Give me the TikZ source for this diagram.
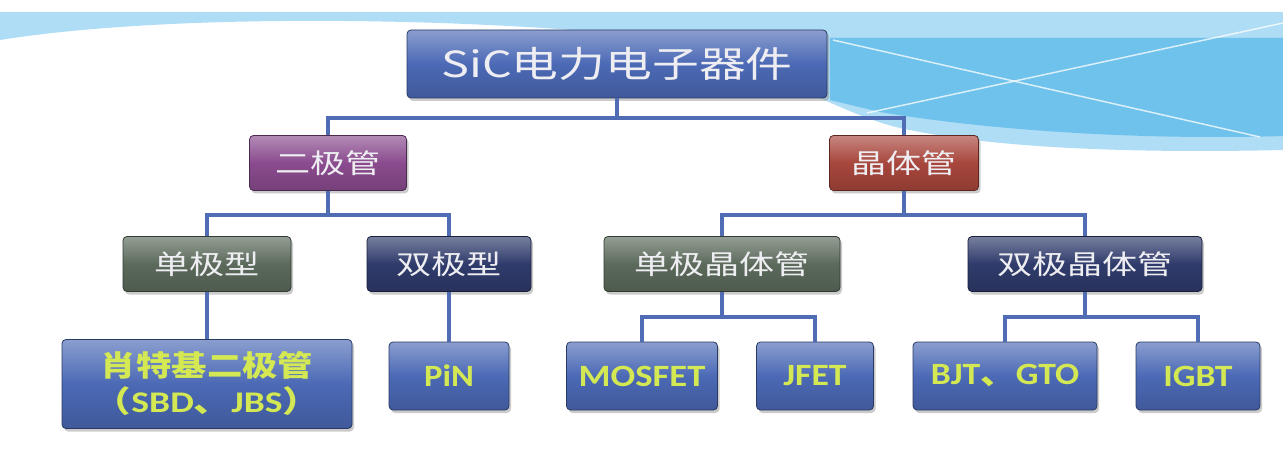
\documentclass[tikz,border=0pt]{standalone}
\usepackage{fontspec}
\newfontfamily\cjk{Noto Sans CJK SC}
\newfontfamily\lat{Carlito}
\usetikzlibrary{shadows}
\definecolor{bglight}{HTML}{AEDDF5}
\definecolor{bgdark}{HTML}{6EC2EC}
\definecolor{linec}{HTML}{4F6CB4}
\definecolor{cblue}{HTML}{4B69B5}
\definecolor{cpurple}{HTML}{8A4B8E}
\definecolor{cred}{HTML}{A8463C}
\definecolor{cgreen}{HTML}{5B6A5B}
\definecolor{cnavy}{HTML}{2F3B6B}
\definecolor{ctext}{HTML}{EEEEF2}
\definecolor{cyellow}{HTML}{D3E853}
\newcommand{\stretchtxt}[2]{\scalebox{#1}[1]{#2}}
\tikzset{
  box/.style={rounded corners=4pt, draw=#1!55!black, line width=0.8pt,
    top color=#1!65!white, bottom color=#1!85!black, middle color=#1,
    drop shadow={shadow xshift=2pt, shadow yshift=-3pt, fill=black!45, opacity=0.45},
    inner sep=0pt, align=center},
  conn/.style={draw=linec, line width=3.5pt},
  toptext/.style={text=ctext, font=\cjk\fontsize{36}{40}\selectfont},
  midtext/.style={text=ctext, font=\cjk\fontsize{27}{30}\selectfont},
  lowtext/.style={text=cyellow, font=\cjk\bfseries\fontsize{29}{34}\selectfont},
  lattext/.style={text=cyellow, font=\lat\bfseries\fontsize{31}{34}\selectfont},
}
\begin{document}
\begin{tikzpicture}[x=1pt,y=-1pt]
\useasboundingbox (0,0) rectangle (1283,449);
\fill[white] (0,0) rectangle (1283,449);
% background swoosh
\fill[bglight] (0,12) -- (1283,12) -- (1283,150)
  .. controls (1150,153) and (1000,150) .. (900,128)
  .. controls (830,112) and (760,55) .. (600,32)
  .. controls (400,16) and (150,16) .. (0,40) -- cycle;
\fill[bgdark] (830,38) -- (1283,38) -- (1283,136)
  .. controls (1150,140) and (1000,132) .. (880,112) -- (830,100) -- cycle;
\draw[white, line width=1.5pt, opacity=0.75] (833,40) -- (1260,137);
\draw[white, line width=1.5pt, opacity=0.75] (867,113) -- (1283,23);

% nodes
\node[box=cblue, minimum width=420pt, minimum height=68pt, toptext] (root) at (617,64) {\stretchtxt{1.3}{SiC电力电子器件}};
\node[box=cpurple, minimum width=157pt, minimum height=55pt, midtext] (d) at (328,163) {\stretchtxt{1.3}{二极管}};
\node[box=cred, minimum width=149pt, minimum height=55pt, midtext] (t) at (904,163) {\stretchtxt{1.3}{晶体管}};
\node[box=cgreen, minimum width=168pt, minimum height=55pt, midtext] (d1) at (207,264) {\stretchtxt{1.3}{单极型}};
\node[box=cnavy, minimum width=164pt, minimum height=55pt, midtext] (d2) at (449,264) {\stretchtxt{1.3}{双极型}};
\node[box=cgreen, minimum width=236pt, minimum height=55pt, midtext] (t1) at (722,264) {\stretchtxt{1.3}{单极晶体管}};
\node[box=cnavy, minimum width=234pt, minimum height=55pt, midtext] (t2) at (1085,264) {\stretchtxt{1.3}{双极晶体管}};
\node[box=cblue, minimum width=290pt, minimum height=89pt, lowtext] (b1) at (207,384) {\stretchtxt{1.22}{肖特基二极管}\\[2pt]\stretchtxt{1.25}{\fontsize{30}{34}\selectfont （{\lat\bfseries SBD}、{\lat\bfseries JBS}）}};
\node[box=cblue, minimum width=120pt, minimum height=68pt, lattext] (b2) at (449,376) {\stretchtxt{1.12}{PiN}};
\node[box=cblue, minimum width=151pt, minimum height=68pt, lattext] (b3) at (642,376) {\stretchtxt{1.18}{MOSFET}};
\node[box=cblue, minimum width=117pt, minimum height=68pt, lattext] (b4) at (815,376) {\stretchtxt{1.15}{JFET}};
\node[box=cblue, minimum width=184pt, minimum height=68pt, lattext] (b5) at (1005,376) {\stretchtxt{1.15}{BJT{\cjk\bfseries 、}GTO}};
\node[box=cblue, minimum width=124pt, minimum height=68pt, lattext] (b6) at (1198,376) {\stretchtxt{1.15}{IGBT}};

% junctions
\coordinate (j0) at (617,118);
\coordinate (j1) at (328,215);
\coordinate (j2) at (904,215);
\coordinate (j3) at (722,317);
\coordinate (j4) at (1085,317);

% connectors
\draw[conn] (root.south) -- (j0);
\draw[conn] (d.north) |- (j0) -| (t.north);
\draw[conn] (d.south) -- (j1);
\draw[conn] (d1.north) |- (j1) -| (d2.north);
\draw[conn] (t.south) -- (j2);
\draw[conn] (t1.north) |- (j2) -| (t2.north);
\draw[conn] (d1.south) -- (b1.north);
\draw[conn] (d2.south) -- (b2.north);
\draw[conn] (t1.south) -- (j3);
\draw[conn] (b3.north) |- (j3) -| (b4.north);
\draw[conn] (t2.south) -- (j4);
\draw[conn] (b5.north) |- (j4) -| (b6.north);
\end{tikzpicture}
\end{document}
